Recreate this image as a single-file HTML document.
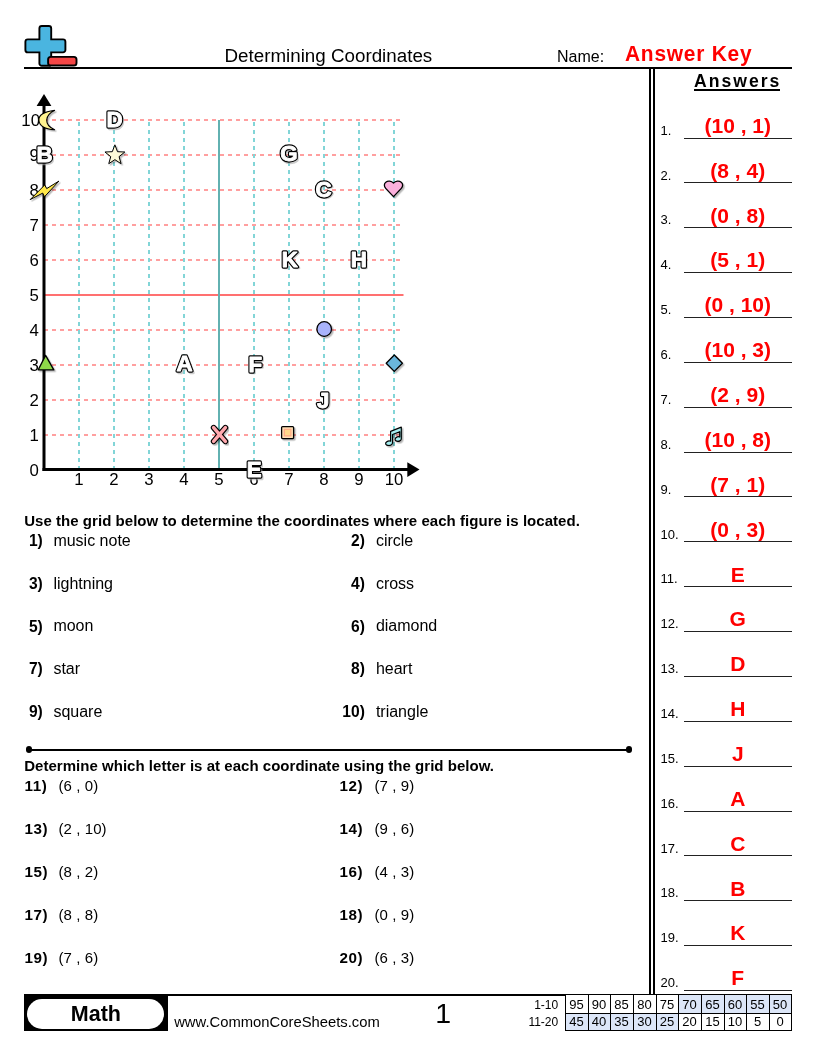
<!DOCTYPE html>
<html><head><meta charset="utf-8"><title>Determining Coordinates</title>
<style>
html,body{margin:0;padding:0;background:#fff;}
body{width:816px;height:1056px;position:relative;overflow:hidden;font-family:"Liberation Sans", Arial, sans-serif;color:#000;}
.a{position:absolute;white-space:nowrap;line-height:1;}
.hl{position:absolute;background:#000;}
.b{font-weight:bold;}
.red{color:#f00;}
.c{text-align:center;}
.r{text-align:right;}
#pg{position:absolute;left:0;top:0;width:816px;height:1056px;will-change:transform;}
</style></head><body><div id="pg">

<svg class="a" style="left:0;top:0" width="100" height="80" viewBox="0 0 100 80">
<path d="M41.8,26 h7 a2.4,2.4 0 0 1 2.4,2.4 v11 h11.8 a2.4,2.4 0 0 1 2.4,2.4 v8.2 a2.4,2.4 0 0 1 -2.4,2.4 h-11.8 v11 a2.4,2.4 0 0 1 -2.4,2.4 h-7 a2.4,2.4 0 0 1 -2.4,-2.4 v-11 h-11.6 a2.4,2.4 0 0 1 -2.4,-2.4 v-8.2 a2.4,2.4 0 0 1 2.4,-2.4 h11.6 v-11 a2.4,2.4 0 0 1 2.4,-2.4 z" fill="#4ab5e0" stroke="#000" stroke-width="1.9"/>
<rect x="48.1" y="56.9" width="28.4" height="8.6" rx="2.6" fill="#f44646" stroke="#000" stroke-width="1.9"/>
</svg>

<div class="hl" style="left:24.0px;top:67.0px;width:768.0px;height:2.0px;background:#000"></div>
<div class="a " style="left:224.5px;top:46.79px;font-size:18.8px;">Determining Coordinates</div>
<div class="a " style="left:557.0px;top:49.26px;font-size:16.0px;">Name:</div>
<div class="a b red" style="left:625.0px;top:43.44px;font-size:22.4px;letter-spacing:0.8px;transform:scaleX(0.935);transform-origin:0 0">Answer Key</div>
<div class="hl" style="left:649.0px;top:67.0px;width:2.0px;height:929.0px;background:#000"></div>
<div class="hl" style="left:653.0px;top:67.0px;width:1.5px;height:929.0px;background:#000"></div>
<div class="a b" style="left:694.0px;top:72.90px;font-size:17.6px;letter-spacing:2.0px">Answers</div>
<div class="hl" style="left:694.0px;top:89.0px;width:86.0px;height:1.5px;background:#000"></div>
<div class="hl" style="left:684.0px;top:138.0px;width:107.5px;height:1.4px;background:#222"></div>
<div class="a " style="left:660.5px;top:123.70px;font-size:13.0px;">1.</div>
<div class="a b red c" style="left:684.0px;top:114.82px;font-size:21.0px;width:107.5px">(10 , 1)</div>
<div class="hl" style="left:684.0px;top:182.0px;width:107.5px;height:1.4px;background:#222"></div>
<div class="a " style="left:660.5px;top:168.57px;font-size:13.0px;">2.</div>
<div class="a b red c" style="left:684.0px;top:159.69px;font-size:21.0px;width:107.5px">(8 , 4)</div>
<div class="hl" style="left:684.0px;top:227.0px;width:107.5px;height:1.4px;background:#222"></div>
<div class="a " style="left:660.5px;top:213.44px;font-size:13.0px;">3.</div>
<div class="a b red c" style="left:684.0px;top:204.56px;font-size:21.0px;width:107.5px">(0 , 8)</div>
<div class="hl" style="left:684.0px;top:272.0px;width:107.5px;height:1.4px;background:#222"></div>
<div class="a " style="left:660.5px;top:258.31px;font-size:13.0px;">4.</div>
<div class="a b red c" style="left:684.0px;top:249.43px;font-size:21.0px;width:107.5px">(5 , 1)</div>
<div class="hl" style="left:684.0px;top:317.0px;width:107.5px;height:1.4px;background:#222"></div>
<div class="a " style="left:660.5px;top:303.18px;font-size:13.0px;">5.</div>
<div class="a b red c" style="left:684.0px;top:294.30px;font-size:21.0px;width:107.5px">(0 , 10)</div>
<div class="hl" style="left:684.0px;top:362.0px;width:107.5px;height:1.4px;background:#222"></div>
<div class="a " style="left:660.5px;top:348.05px;font-size:13.0px;">6.</div>
<div class="a b red c" style="left:684.0px;top:339.17px;font-size:21.0px;width:107.5px">(10 , 3)</div>
<div class="hl" style="left:684.0px;top:407.0px;width:107.5px;height:1.4px;background:#222"></div>
<div class="a " style="left:660.5px;top:392.92px;font-size:13.0px;">7.</div>
<div class="a b red c" style="left:684.0px;top:384.04px;font-size:21.0px;width:107.5px">(2 , 9)</div>
<div class="hl" style="left:684.0px;top:452.0px;width:107.5px;height:1.4px;background:#222"></div>
<div class="a " style="left:660.5px;top:437.79px;font-size:13.0px;">8.</div>
<div class="a b red c" style="left:684.0px;top:428.91px;font-size:21.0px;width:107.5px">(10 , 8)</div>
<div class="hl" style="left:684.0px;top:496.0px;width:107.5px;height:1.4px;background:#222"></div>
<div class="a " style="left:660.5px;top:482.66px;font-size:13.0px;">9.</div>
<div class="a b red c" style="left:684.0px;top:473.78px;font-size:21.0px;width:107.5px">(7 , 1)</div>
<div class="hl" style="left:684.0px;top:541.0px;width:107.5px;height:1.4px;background:#222"></div>
<div class="a " style="left:660.5px;top:527.53px;font-size:13.0px;">10.</div>
<div class="a b red c" style="left:684.0px;top:518.65px;font-size:21.0px;width:107.5px">(0 , 3)</div>
<div class="hl" style="left:684.0px;top:586.0px;width:107.5px;height:1.4px;background:#222"></div>
<div class="a " style="left:660.5px;top:572.40px;font-size:13.0px;">11.</div>
<div class="a b red c" style="left:684.0px;top:563.52px;font-size:21.0px;width:107.5px">E</div>
<div class="hl" style="left:684.0px;top:631.0px;width:107.5px;height:1.4px;background:#222"></div>
<div class="a " style="left:660.5px;top:617.27px;font-size:13.0px;">12.</div>
<div class="a b red c" style="left:684.0px;top:608.39px;font-size:21.0px;width:107.5px">G</div>
<div class="hl" style="left:684.0px;top:676.0px;width:107.5px;height:1.4px;background:#222"></div>
<div class="a " style="left:660.5px;top:662.14px;font-size:13.0px;">13.</div>
<div class="a b red c" style="left:684.0px;top:653.26px;font-size:21.0px;width:107.5px">D</div>
<div class="hl" style="left:684.0px;top:721.0px;width:107.5px;height:1.4px;background:#222"></div>
<div class="a " style="left:660.5px;top:707.01px;font-size:13.0px;">14.</div>
<div class="a b red c" style="left:684.0px;top:698.13px;font-size:21.0px;width:107.5px">H</div>
<div class="hl" style="left:684.0px;top:766.0px;width:107.5px;height:1.4px;background:#222"></div>
<div class="a " style="left:660.5px;top:751.88px;font-size:13.0px;">15.</div>
<div class="a b red c" style="left:684.0px;top:743.00px;font-size:21.0px;width:107.5px">J</div>
<div class="hl" style="left:684.0px;top:811.0px;width:107.5px;height:1.4px;background:#222"></div>
<div class="a " style="left:660.5px;top:796.75px;font-size:13.0px;">16.</div>
<div class="a b red c" style="left:684.0px;top:787.87px;font-size:21.0px;width:107.5px">A</div>
<div class="hl" style="left:684.0px;top:855.0px;width:107.5px;height:1.4px;background:#222"></div>
<div class="a " style="left:660.5px;top:841.62px;font-size:13.0px;">17.</div>
<div class="a b red c" style="left:684.0px;top:832.74px;font-size:21.0px;width:107.5px">C</div>
<div class="hl" style="left:684.0px;top:900.0px;width:107.5px;height:1.4px;background:#222"></div>
<div class="a " style="left:660.5px;top:886.49px;font-size:13.0px;">18.</div>
<div class="a b red c" style="left:684.0px;top:877.61px;font-size:21.0px;width:107.5px">B</div>
<div class="hl" style="left:684.0px;top:945.0px;width:107.5px;height:1.4px;background:#222"></div>
<div class="a " style="left:660.5px;top:931.36px;font-size:13.0px;">19.</div>
<div class="a b red c" style="left:684.0px;top:922.48px;font-size:21.0px;width:107.5px">K</div>
<div class="hl" style="left:684.0px;top:990.0px;width:107.5px;height:1.4px;background:#222"></div>
<div class="a " style="left:660.5px;top:976.23px;font-size:13.0px;">20.</div>
<div class="a b red c" style="left:684.0px;top:967.35px;font-size:21.0px;width:107.5px">F</div>
<svg class="a" style="left:0;top:0" width="430" height="500" viewBox="0 0 430 500">
<defs><filter id="sh" x="-30%" y="-30%" width="160%" height="160%"><feDropShadow dx="1.5" dy="1.5" stdDeviation="0.45" flood-color="#000" flood-opacity="0.28"/></filter></defs>
<line x1="44" y1="435.0" x2="401" y2="435.0" stroke="#ff8080" stroke-width="1.6" stroke-dasharray="4 4"/>
<line x1="44" y1="400.0" x2="401" y2="400.0" stroke="#ff8080" stroke-width="1.6" stroke-dasharray="4 4"/>
<line x1="44" y1="365.0" x2="401" y2="365.0" stroke="#ff8080" stroke-width="1.6" stroke-dasharray="4 4"/>
<line x1="44" y1="330.0" x2="401" y2="330.0" stroke="#ff8080" stroke-width="1.6" stroke-dasharray="4 4"/>
<line x1="44" y1="295.0" x2="403.5" y2="295.0" stroke="#ff7070" stroke-width="2"/>
<line x1="44" y1="260.0" x2="401" y2="260.0" stroke="#ff8080" stroke-width="1.6" stroke-dasharray="4 4"/>
<line x1="44" y1="225.0" x2="401" y2="225.0" stroke="#ff8080" stroke-width="1.6" stroke-dasharray="4 4"/>
<line x1="44" y1="190.0" x2="401" y2="190.0" stroke="#ff8080" stroke-width="1.6" stroke-dasharray="4 4"/>
<line x1="44" y1="155.0" x2="401" y2="155.0" stroke="#ff8080" stroke-width="1.6" stroke-dasharray="4 4"/>
<line x1="44" y1="120.0" x2="401" y2="120.0" stroke="#ff8080" stroke-width="1.6" stroke-dasharray="4 4"/>
<line x1="79.0" y1="470" x2="79.0" y2="120" stroke="#82d5d7" stroke-width="2" stroke-dasharray="4 4"/>
<line x1="114.0" y1="470" x2="114.0" y2="120" stroke="#82d5d7" stroke-width="2" stroke-dasharray="4 4"/>
<line x1="149.0" y1="470" x2="149.0" y2="120" stroke="#82d5d7" stroke-width="2" stroke-dasharray="4 4"/>
<line x1="184.0" y1="470" x2="184.0" y2="120" stroke="#82d5d7" stroke-width="2" stroke-dasharray="4 4"/>
<line x1="219.0" y1="120" x2="219.0" y2="469" stroke="#62b1b1" stroke-width="2"/>
<line x1="254.0" y1="470" x2="254.0" y2="120" stroke="#82d5d7" stroke-width="2" stroke-dasharray="4 4"/>
<line x1="289.0" y1="470" x2="289.0" y2="120" stroke="#82d5d7" stroke-width="2" stroke-dasharray="4 4"/>
<line x1="324.0" y1="470" x2="324.0" y2="120" stroke="#82d5d7" stroke-width="2" stroke-dasharray="4 4"/>
<line x1="359.0" y1="470" x2="359.0" y2="120" stroke="#82d5d7" stroke-width="2" stroke-dasharray="4 4"/>
<line x1="394.0" y1="470" x2="394.0" y2="120" stroke="#82d5d7" stroke-width="2" stroke-dasharray="4 4"/>
<line x1="44" y1="104" x2="44" y2="471" stroke="#000" stroke-width="3"/>
<polygon points="44,94 36.6,106 51.4,106" fill="#000"/>
<line x1="42.5" y1="469.5" x2="409" y2="469.5" stroke="#000" stroke-width="3"/>
<polygon points="419.5,469.5 407.3,462.2 407.3,477" fill="#000"/>
<g font-family='"Liberation Sans", Arial, sans-serif' font-size="16.8" fill="#000">
<text x="38.8" y="476.0" text-anchor="end">0</text>
<text x="38.8" y="441.0" text-anchor="end">1</text>
<text x="38.8" y="406.0" text-anchor="end">2</text>
<text x="38.8" y="371.0" text-anchor="end">3</text>
<text x="38.8" y="336.0" text-anchor="end">4</text>
<text x="38.8" y="301.0" text-anchor="end">5</text>
<text x="38.8" y="266.0" text-anchor="end">6</text>
<text x="38.8" y="231.0" text-anchor="end">7</text>
<text x="38.8" y="196.0" text-anchor="end">8</text>
<text x="38.8" y="161.0" text-anchor="end">9</text>
<text x="40.0" y="126.0" text-anchor="end">10</text>
<text x="79.0" y="484.8" text-anchor="middle">1</text>
<text x="114.0" y="484.8" text-anchor="middle">2</text>
<text x="149.0" y="484.8" text-anchor="middle">3</text>
<text x="184.0" y="484.8" text-anchor="middle">4</text>
<text x="219.0" y="484.8" text-anchor="middle">5</text>
<text x="254.0" y="484.8" text-anchor="middle">6</text>
<text x="289.0" y="484.8" text-anchor="middle">7</text>
<text x="324.0" y="484.8" text-anchor="middle">8</text>
<text x="359.0" y="484.8" text-anchor="middle">9</text>
<text x="394.0" y="484.8" text-anchor="middle">10</text>
</g>
<g font-family='"Liberation Sans", Arial, sans-serif' font-weight="bold" font-size="22.3" text-anchor="middle" stroke-linejoin="round" fill="#aaa" stroke="#aaa" stroke-width="2.4" opacity="0.6">
<text x="115.9" y="128.8">D</text>
<text x="45.9" y="163.6">B</text>
<text x="290.2" y="162.5">G</text>
<text x="325.0" y="198.2">C</text>
<text x="291.3" y="268.0">K</text>
<text x="360.1" y="268.3">H</text>
<text x="186.0" y="372.7">A</text>
<text x="256.8" y="373.3">F</text>
<text x="324.6" y="409.0">J</text>
<text x="255.7" y="478.6">E</text>
</g>
<g font-family='"Liberation Sans", Arial, sans-serif' font-weight="bold" font-size="22.3" text-anchor="middle" stroke-linejoin="round" fill="none" stroke="#000" stroke-width="3.3">
<text x="114.5" y="127.4">D</text>
<text x="44.5" y="162.2">B</text>
<text x="288.8" y="161.1">G</text>
<text x="323.6" y="196.8">C</text>
<text x="289.9" y="266.6">K</text>
<text x="358.7" y="266.9">H</text>
<text x="184.6" y="371.3">A</text>
<text x="255.4" y="371.9">F</text>
<text x="323.2" y="407.6">J</text>
<text x="254.3" y="477.2">E</text>
</g>
<g font-family='"Liberation Sans", Arial, sans-serif' font-weight="bold" font-size="22.3" text-anchor="middle" stroke-linejoin="round" fill="#fff" stroke="#fff" stroke-width="0.9">
<text x="114.5" y="127.4">D</text>
<text x="44.5" y="162.2">B</text>
<text x="288.8" y="161.1">G</text>
<text x="323.6" y="196.8">C</text>
<text x="289.9" y="266.6">K</text>
<text x="358.7" y="266.9">H</text>
<text x="184.6" y="371.3">A</text>
<text x="255.4" y="371.9">F</text>
<text x="323.2" y="407.6">J</text>
<text x="254.3" y="477.2">E</text>
</g>
<g stroke="#000" stroke-width="1.3" stroke-linejoin="round" filter="url(#sh)">
<path d="M54.6,110.4 C42,112 38.6,116 38.9,120.2 C39.2,125 44,129 54.6,129.8 C48.5,127 46.6,123.5 46.7,120 C46.8,116.5 49,113 54.6,110.4 Z" fill="#fff38f" stroke-width="1.1"/>
<path d="M30.2,199.6 L44.7,185 L46.7,188.6 L58.9,181.1 L44.5,196.8 L42.7,193.1 Z" fill="#ffe84a" stroke-width="1.0"/>
<polygon points="114.90,144.80 117.49,151.69 124.84,152.02 119.08,156.61 121.04,163.70 114.90,159.65 108.76,163.70 110.72,156.61 104.96,152.02 112.31,151.69" fill="#fffbd8" stroke-width="1.0"/>
<path d="M393.5,196.6 L385.7,188.4 C383.9,186.5 383.9,183.6 385.8,182.2 C387.9,180.6 391.4,180.9 393.5,183.1 C395.6,180.9 399.1,180.6 401.2,182.2 C403.1,183.6 403.1,186.5 401.3,188.4 Z" fill="#fbb0dc"/>
<circle cx="324.2" cy="329" r="7.3" fill="#a9b3fb"/>
<polygon points="394.3,355 402.4,363.2 394.3,371.4 386.2,363.2" fill="#6ab6dc"/>
<polygon points="45.6,355.4 38.2,369.9 53.8,369.9" fill="#8fd84a"/>
<rect x="281.6" y="426.6" width="12" height="12" rx="1" fill="#ffe2b6"/>
</g>
<rect x="284.3" y="429.3" width="6.6" height="6.6" fill="#ffd88a" stroke="#ffa888" stroke-width="1.2"/>
<g filter="url(#sh)" stroke-linecap="round">
<path d="M213.6,427.6 L225.4,441.4 M225.4,427.6 L213.6,441.4" stroke="#000" stroke-width="5.6" fill="none"/>
<path d="M213.6,427.6 L225.4,441.4 M225.4,427.6 L213.6,441.4" stroke="#ffa8ae" stroke-width="3.4" fill="none"/>
</g>
<g stroke="#000" stroke-width="1.2" stroke-linejoin="round" filter="url(#sh)" fill="#a6eef0" transform="translate(-0.7,-0.8)">
<path d="M391.3,432.2 L401.3,428.2 L402,428 L402,439.5 C402,441.5 399.6,442.4 397.6,442 C395.6,441.6 395.2,439.8 396.6,438.6 C397.8,437.6 399.6,437.4 400.4,437.8 L400.4,432.5 L393.2,435.3 L393.2,443.6 C393.2,445.6 390.8,446.6 388.6,446.2 C386.2,445.8 385.6,444 387.2,442.8 C388.6,441.8 390.4,441.6 391.3,442 Z"/>
</g>
</svg>
<div class="a b" style="left:24.2px;top:513.10px;font-size:15.0px;letter-spacing:0.04px">Use the grid below to determine the coordinates where each figure is located.</div>
<div class="a b r" style="left:0;width:42.8px;top:533.29px;font-size:15.6px">1)</div>
<div class="a " style="left:53.4px;top:532.96px;font-size:16.0px;">music note</div>
<div class="a b r" style="left:300px;width:64.9px;top:533.29px;font-size:15.6px">2)</div>
<div class="a " style="left:375.9px;top:532.96px;font-size:16.0px;">circle</div>
<div class="a b r" style="left:0;width:42.8px;top:575.94px;font-size:15.6px">3)</div>
<div class="a " style="left:53.4px;top:575.61px;font-size:16.0px;">lightning</div>
<div class="a b r" style="left:300px;width:64.9px;top:575.94px;font-size:15.6px">4)</div>
<div class="a " style="left:375.9px;top:575.61px;font-size:16.0px;">cross</div>
<div class="a b r" style="left:0;width:42.8px;top:618.59px;font-size:15.6px">5)</div>
<div class="a " style="left:53.4px;top:618.26px;font-size:16.0px;">moon</div>
<div class="a b r" style="left:300px;width:64.9px;top:618.59px;font-size:15.6px">6)</div>
<div class="a " style="left:375.9px;top:618.26px;font-size:16.0px;">diamond</div>
<div class="a b r" style="left:0;width:42.8px;top:661.24px;font-size:15.6px">7)</div>
<div class="a " style="left:53.4px;top:660.91px;font-size:16.0px;">star</div>
<div class="a b r" style="left:300px;width:64.9px;top:661.24px;font-size:15.6px">8)</div>
<div class="a " style="left:375.9px;top:660.91px;font-size:16.0px;">heart</div>
<div class="a b r" style="left:0;width:42.8px;top:703.89px;font-size:15.6px">9)</div>
<div class="a " style="left:53.4px;top:703.56px;font-size:16.0px;">square</div>
<div class="a b r" style="left:300px;width:64.9px;top:703.89px;font-size:15.6px">10)</div>
<div class="a " style="left:375.9px;top:703.56px;font-size:16.0px;">triangle</div>
<div class="hl" style="left:28.8px;top:748.6px;width:600.4px;height:2.0px;background:#000"></div>
<div class="a" style="left:25.5px;top:746.3px;width:6.6px;height:6.6px;border-radius:50%;background:#000"></div>
<div class="a" style="left:625.9px;top:746.3px;width:6.6px;height:6.6px;border-radius:50%;background:#000"></div>
<div class="a b" style="left:24.2px;top:758.10px;font-size:15.0px;letter-spacing:0.03px">Determine which letter is at each coordinate using the grid below.</div>
<div class="a b" style="left:24.6px;top:778.03px;font-size:15.2px;letter-spacing:0.5px">11)</div>
<div class="a " style="left:58.4px;top:777.90px;font-size:15.0px;letter-spacing:0.1px">(6 , 0)</div>
<div class="a b" style="left:339.5px;top:778.03px;font-size:15.2px;letter-spacing:0.5px">12)</div>
<div class="a " style="left:374.5px;top:777.90px;font-size:15.0px;letter-spacing:0.1px">(7 , 9)</div>
<div class="a b" style="left:24.6px;top:821.13px;font-size:15.2px;letter-spacing:0.5px">13)</div>
<div class="a " style="left:58.4px;top:821.00px;font-size:15.0px;letter-spacing:0.1px">(2 , 10)</div>
<div class="a b" style="left:339.5px;top:821.13px;font-size:15.2px;letter-spacing:0.5px">14)</div>
<div class="a " style="left:374.5px;top:821.00px;font-size:15.0px;letter-spacing:0.1px">(9 , 6)</div>
<div class="a b" style="left:24.6px;top:864.23px;font-size:15.2px;letter-spacing:0.5px">15)</div>
<div class="a " style="left:58.4px;top:864.10px;font-size:15.0px;letter-spacing:0.1px">(8 , 2)</div>
<div class="a b" style="left:339.5px;top:864.23px;font-size:15.2px;letter-spacing:0.5px">16)</div>
<div class="a " style="left:374.5px;top:864.10px;font-size:15.0px;letter-spacing:0.1px">(4 , 3)</div>
<div class="a b" style="left:24.6px;top:907.33px;font-size:15.2px;letter-spacing:0.5px">17)</div>
<div class="a " style="left:58.4px;top:907.20px;font-size:15.0px;letter-spacing:0.1px">(8 , 8)</div>
<div class="a b" style="left:339.5px;top:907.33px;font-size:15.2px;letter-spacing:0.5px">18)</div>
<div class="a " style="left:374.5px;top:907.20px;font-size:15.0px;letter-spacing:0.1px">(0 , 9)</div>
<div class="a b" style="left:24.6px;top:950.43px;font-size:15.2px;letter-spacing:0.5px">19)</div>
<div class="a " style="left:58.4px;top:950.30px;font-size:15.0px;letter-spacing:0.1px">(7 , 6)</div>
<div class="a b" style="left:339.5px;top:950.43px;font-size:15.2px;letter-spacing:0.5px">20)</div>
<div class="a " style="left:374.5px;top:950.30px;font-size:15.0px;letter-spacing:0.1px">(6 , 3)</div>
<div class="hl" style="left:24.0px;top:994.3px;width:768.0px;height:2.0px;background:#000"></div>
<div class="a" style="left:24.3px;top:994.8px;width:143.9px;height:36px;background:#000"></div>
<div class="a" style="left:27.3px;top:999px;width:137.2px;height:30px;border-radius:15px;background:#fff"></div>
<div class="a b c" style="left:27.3px;width:137.2px;top:1004.10px;font-size:21.5px">Math</div>
<div class="a " style="left:174.2px;top:1014.81px;font-size:14.8px;">www.CommonCoreSheets.com</div>
<div class="a " style="left:435.2px;top:998.87px;font-size:28.5px;">1</div>
<div class="a r" style="left:504.0px;top:998.74px;font-size:12.0px;width:54.2px">1-10</div>
<div class="a r" style="left:504.0px;top:1016.04px;font-size:12.0px;width:54.2px">11-20</div>
<div class="a" style="left:565.1px;top:995px;width:226.4px;height:35.2px;border:0"></div>
<div class="a" style="left:565.00px;top:995px;width:23.00px;height:18px;background:#fff"></div>
<div class="a" style="left:565.00px;top:1013px;width:23.00px;height:17px;background:#dce6f8"></div>
<div class="a c" style="left:565.00px;width:23.00px;top:997.90px;font-size:13px">95</div>
<div class="a c" style="left:565.00px;width:23.00px;top:1015.20px;font-size:13px">45</div>
<div class="a" style="left:588.00px;top:995px;width:22.00px;height:18px;background:#fff"></div>
<div class="a" style="left:588.00px;top:1013px;width:22.00px;height:17px;background:#dce6f8"></div>
<div class="a c" style="left:588.00px;width:22.00px;top:997.90px;font-size:13px">90</div>
<div class="a c" style="left:588.00px;width:22.00px;top:1015.20px;font-size:13px">40</div>
<div class="a" style="left:610.00px;top:995px;width:23.00px;height:18px;background:#fff"></div>
<div class="a" style="left:610.00px;top:1013px;width:23.00px;height:17px;background:#dce6f8"></div>
<div class="a c" style="left:610.00px;width:23.00px;top:997.90px;font-size:13px">85</div>
<div class="a c" style="left:610.00px;width:23.00px;top:1015.20px;font-size:13px">35</div>
<div class="a" style="left:633.00px;top:995px;width:23.00px;height:18px;background:#fff"></div>
<div class="a" style="left:633.00px;top:1013px;width:23.00px;height:17px;background:#dce6f8"></div>
<div class="a c" style="left:633.00px;width:23.00px;top:997.90px;font-size:13px">80</div>
<div class="a c" style="left:633.00px;width:23.00px;top:1015.20px;font-size:13px">30</div>
<div class="a" style="left:656.00px;top:995px;width:22.00px;height:18px;background:#fff"></div>
<div class="a" style="left:656.00px;top:1013px;width:22.00px;height:17px;background:#dce6f8"></div>
<div class="a c" style="left:656.00px;width:22.00px;top:997.90px;font-size:13px">75</div>
<div class="a c" style="left:656.00px;width:22.00px;top:1015.20px;font-size:13px">25</div>
<div class="a" style="left:678.00px;top:995px;width:23.00px;height:18px;background:#dce6f8"></div>
<div class="a" style="left:678.00px;top:1013px;width:23.00px;height:17px;background:#fff"></div>
<div class="a c" style="left:678.00px;width:23.00px;top:997.90px;font-size:13px">70</div>
<div class="a c" style="left:678.00px;width:23.00px;top:1015.20px;font-size:13px">20</div>
<div class="a" style="left:701.00px;top:995px;width:23.00px;height:18px;background:#dce6f8"></div>
<div class="a" style="left:701.00px;top:1013px;width:23.00px;height:17px;background:#fff"></div>
<div class="a c" style="left:701.00px;width:23.00px;top:997.90px;font-size:13px">65</div>
<div class="a c" style="left:701.00px;width:23.00px;top:1015.20px;font-size:13px">15</div>
<div class="a" style="left:724.00px;top:995px;width:22.00px;height:18px;background:#dce6f8"></div>
<div class="a" style="left:724.00px;top:1013px;width:22.00px;height:17px;background:#fff"></div>
<div class="a c" style="left:724.00px;width:22.00px;top:997.90px;font-size:13px">60</div>
<div class="a c" style="left:724.00px;width:22.00px;top:1015.20px;font-size:13px">10</div>
<div class="a" style="left:746.00px;top:995px;width:23.00px;height:18px;background:#dce6f8"></div>
<div class="a" style="left:746.00px;top:1013px;width:23.00px;height:17px;background:#fff"></div>
<div class="a c" style="left:746.00px;width:23.00px;top:997.90px;font-size:13px">55</div>
<div class="a c" style="left:746.00px;width:23.00px;top:1015.20px;font-size:13px">5</div>
<div class="a" style="left:769.00px;top:995px;width:22.00px;height:18px;background:#dce6f8"></div>
<div class="a" style="left:769.00px;top:1013px;width:22.00px;height:17px;background:#fff"></div>
<div class="a c" style="left:769.00px;width:22.00px;top:997.90px;font-size:13px">50</div>
<div class="a c" style="left:769.00px;width:22.00px;top:1015.20px;font-size:13px">0</div>
<div class="hl" style="left:565.0px;top:995.0px;width:1.0px;height:35.5px;background:#000"></div>
<div class="hl" style="left:588.0px;top:995.0px;width:1.0px;height:35.5px;background:#000"></div>
<div class="hl" style="left:610.0px;top:995.0px;width:1.0px;height:35.5px;background:#000"></div>
<div class="hl" style="left:633.0px;top:995.0px;width:1.0px;height:35.5px;background:#000"></div>
<div class="hl" style="left:656.0px;top:995.0px;width:1.0px;height:35.5px;background:#000"></div>
<div class="hl" style="left:678.0px;top:995.0px;width:1.0px;height:35.5px;background:#000"></div>
<div class="hl" style="left:701.0px;top:995.0px;width:1.0px;height:35.5px;background:#000"></div>
<div class="hl" style="left:724.0px;top:995.0px;width:1.0px;height:35.5px;background:#000"></div>
<div class="hl" style="left:746.0px;top:995.0px;width:1.0px;height:35.5px;background:#000"></div>
<div class="hl" style="left:769.0px;top:995.0px;width:1.0px;height:35.5px;background:#000"></div>
<div class="hl" style="left:791.0px;top:995.0px;width:1.0px;height:35.5px;background:#000"></div>
<div class="hl" style="left:565.0px;top:1012.5px;width:227.0px;height:1.0px;background:#000"></div>
<div class="hl" style="left:565.0px;top:1029.5px;width:227.0px;height:1.0px;background:#000"></div>
</div></body></html>
